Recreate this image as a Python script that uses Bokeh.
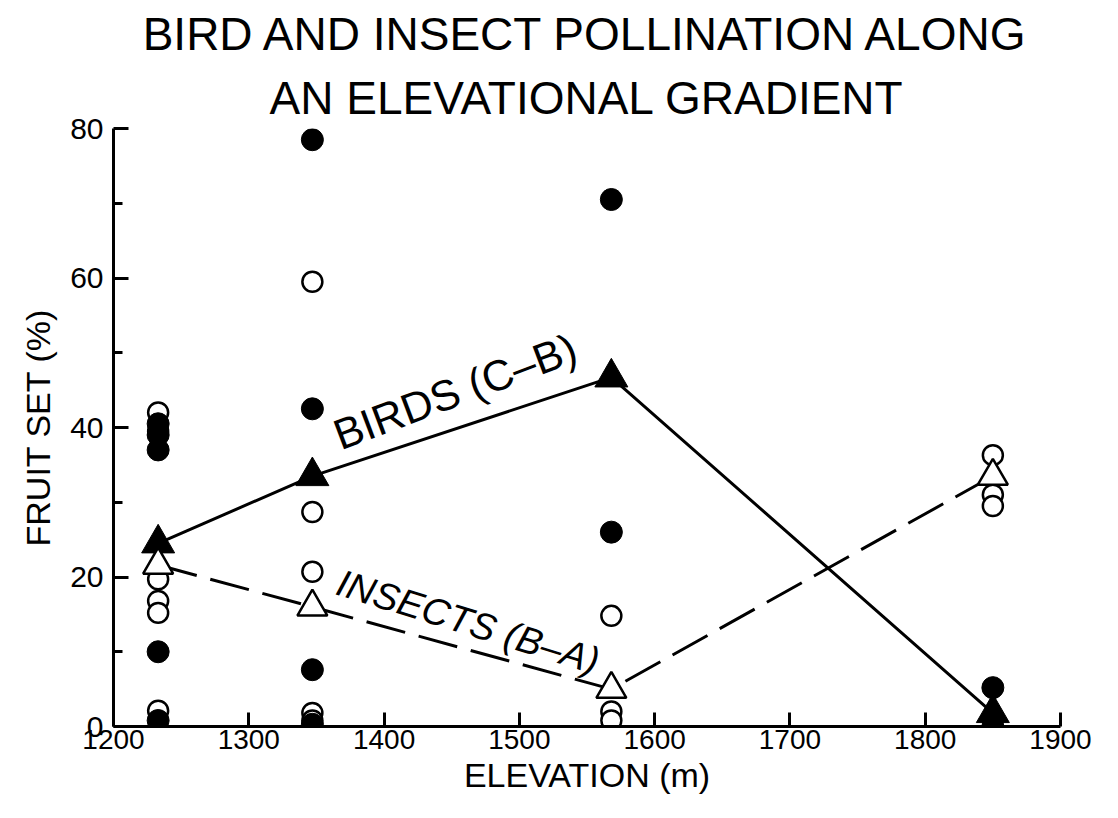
from bokeh.plotting import figure
from bokeh.models import FixedTicker, Label, Range1d, Title
from bokeh.embed import file_html
from bokeh.resources import INLINE

# ---- data ----
sites = [1233, 1347, 1568, 1850]
birds_mean = [24.5, 33.5, 46.7, 1.8]
insects_mean = [21.6, 16.0, 5.0, 33.5]

bird_elev = [1233, 1233, 1233, 1233, 1233, 1347, 1347, 1347, 1347, 1568, 1568, 1850, 1850]
bird_set = [40.5, 39.0, 37.0, 10.0, 0.8, 78.5, 42.5, 7.6, 0.3, 70.5, 26.0, 5.2, 0.0]

insect_elev = [1233, 1233, 1233, 1233, 1233, 1233, 1347, 1347, 1347, 1347, 1347,
               1568, 1568, 1568, 1850, 1850, 1850]
insect_set = [42.0, 39.5, 19.7, 16.8, 15.2, 2.1, 59.5, 28.7, 20.7, 1.8, 0.8,
              14.8, 2.0, 0.8, 36.3, 31.0, 29.5]

x_ticks = [1200, 1300, 1400, 1500, 1600, 1700, 1800, 1900]
y_ticks = [0, 20, 40, 60, 80]
y_minor = [10, 30, 50, 70]

title_line1 = "BIRD AND INSECT POLLINATION ALONG"
title_line2 = "AN ELEVATIONAL GRADIENT"
birds_text = "BIRDS (C–B)"
insects_text = "INSECTS (B–A)"

SANS = "Liberation Sans"

p = figure(width=1102, height=802, x_range=Range1d(1200, 1900), y_range=Range1d(0, 80),
           output_backend="svg", toolbar_location=None,
           min_border_left=113, min_border_right=42, min_border_top=122, min_border_bottom=76)
p.background_fill_color = "white"
p.border_fill_color = "white"
p.outline_line_color = None
p.xgrid.visible = False
p.ygrid.visible = False

# titles: the main title is the outer line, the added one sits nearer the plot
p.title.text = title_line1
p.title.align = "center"
p.title.text_font = SANS
p.title.text_font_size = "46px"
p.title.text_font_style = "normal"
p.title.text_color = "black"
p.title.standoff = 10
p.add_layout(Title(text=title_line2, align="center", text_font=SANS, text_font_size="46px",
                   text_font_style="normal", text_color="black", standoff=10), "above")

# x axis
xa = p.xaxis[0]
xa.ticker = FixedTicker(ticks=x_ticks)
xa.axis_line_width = 3
xa.major_tick_in = 14
xa.major_tick_out = 0
xa.major_tick_line_width = 3
xa.minor_tick_line_color = None
xa.major_label_text_font = SANS
xa.major_label_text_font_size = "28px"
xa.major_label_text_color = "black"
xa.major_label_standoff = 3
xa.axis_label = "ELEVATION (m)"
xa.axis_label_text_font = SANS
xa.axis_label_text_font_size = "34px"
xa.axis_label_text_font_style = "normal"
xa.axis_label_text_color = "black"
xa.axis_label_standoff = 4

# y axis
ya = p.yaxis[0]
ya.ticker = FixedTicker(ticks=y_ticks, minor_ticks=y_minor)
ya.axis_line_width = 3
ya.major_tick_in = 15
ya.major_tick_out = 0
ya.minor_tick_in = 9
ya.minor_tick_out = 0
ya.major_tick_line_width = 3
ya.minor_tick_line_width = 3
ya.major_label_text_font = SANS
ya.major_label_text_font_size = "30px"
ya.major_label_text_color = "black"
ya.major_label_standoff = 10
ya.axis_label = "FRUIT SET (%)"
ya.axis_label_text_font = SANS
ya.axis_label_text_font_size = "34px"
ya.axis_label_text_font_style = "normal"
ya.axis_label_text_color = "black"
ya.axis_label_standoff = 10

# lines of means
p.line(sites, birds_mean, line_color="black", line_width=3)
p.line(sites, insects_mean, line_color="black", line_width=3, line_dash="40 14")

# individual points
p.scatter(insect_elev, insect_set, marker="circle", size=20, fill_color="white",
          line_color="black", line_width=2.5)
p.scatter(bird_elev, bird_set, marker="circle", size=22, fill_color="black",
          line_color="black")
# means
p.scatter(sites, birds_mean, marker="triangle", size=33, fill_color="black", line_color="black")
p.scatter(sites, insects_mean, marker="triangle", size=30, fill_color="white",
          line_color="black", line_width=2.5)

p.add_layout(Label(x=1364, y=38.8, text=birds_text, angle=0.36,
                   text_font=SANS, text_font_size="43px",
                   text_baseline="alphabetic", text_color="black"))
p.add_layout(Label(x=1366, y=19.4, text=insects_text, angle=-0.30,
                   text_font=SANS, text_font_size="38px", text_font_style="italic",
                   text_baseline="alphabetic", text_color="black"))

open("out.html", "w").write(file_html(p, INLINE))
